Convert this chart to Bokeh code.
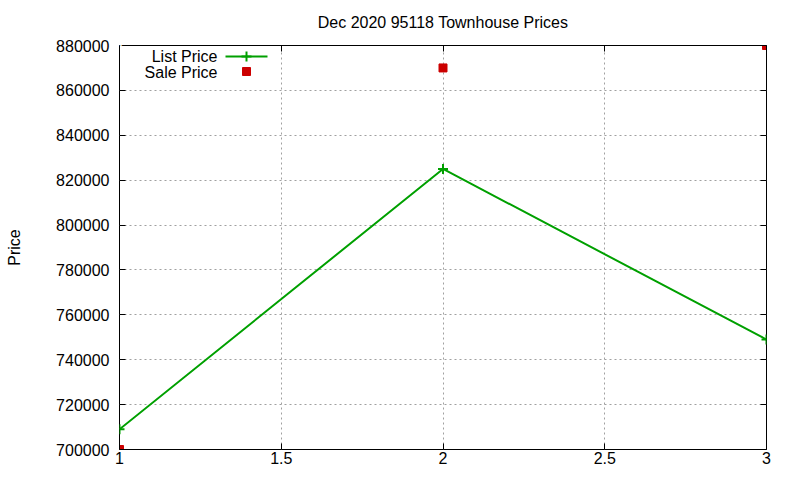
from bokeh.plotting import figure
from bokeh.models import (Range1d, FixedTicker, BasicTickFormatter, LinearAxis, Title)
from bokeh.core.properties import value
from bokeh.embed import file_html
from bokeh.resources import INLINE

title = "Dec 2020 95118 Townhouse Prices"
x_vals = [1, 2, 3]
list_price = [709000, 825000, 749000]
sale_price = [700000, 870000, 880000]
x_ticks = [1, 1.5, 2, 2.5, 3]
x_tick_labels = ["1", "1.5", "2", "2.5", "3"]
y_ticks = list(range(700000, 880001, 20000))
legend_labels = ["List Price", "Sale Price"]

FONT = "Liberation Sans"
FS = "16px"
W, H = 800, 480
ML, MR, MT, MB = 119, 34, 45, 31
X0, X1, Y0, Y1 = 1, 3, 700000, 880000

p = figure(width=W, height=H, output_backend="svg", toolbar_location=None,
           x_range=Range1d(X0, X1), y_range=Range1d(Y0, Y1),
           min_border_left=ML, min_border_right=MR, min_border_top=MT, min_border_bottom=MB,
           x_axis_location=None, y_axis_location=None, title=None)
p.outline_line_color = "black"
p.outline_line_width = 1
p.background_fill_color = "white"
p.border_fill_color = "white"

def mk_axis(labels=True, xaxis=True):
    ax = LinearAxis()
    ax.ticker = FixedTicker(ticks=x_ticks if xaxis else y_ticks)
    if xaxis:
        ax.major_label_overrides = {t: l for t, l in zip(x_ticks, x_tick_labels)}
    else:
        ax.formatter = BasicTickFormatter(use_scientific=False)
    ax.axis_line_color = None
    ax.major_tick_in = 6
    ax.major_tick_out = 0
    ax.minor_tick_line_color = None
    ax.major_tick_line_color = "black"
    ax.major_label_text_font = FONT
    ax.major_label_text_font_size = FS
    ax.major_label_text_color = "black"
    if not labels:
        ax.major_label_text_color = None
        ax.major_label_text_font_size = "0px"
        ax.major_label_standoff = 0
    return ax

bx = mk_axis(True, True)
bx.major_label_standoff = 2
p.add_layout(bx, "below")
ly = mk_axis(True, False)
ly.major_label_standoff = 10
ly.axis_label = "Price"
ly.axis_label_text_font = FONT
ly.axis_label_text_font_size = FS
ly.axis_label_text_font_style = "normal"
ly.axis_label_text_color = "black"
ly.axis_label_standoff = 30
p.add_layout(ly, "left")
p.add_layout(mk_axis(False, True), "above")
p.add_layout(mk_axis(False, False), "right")

p.xgrid.ticker = FixedTicker(ticks=x_ticks)
p.ygrid.ticker = FixedTicker(ticks=y_ticks)
for g in (p.xgrid, p.ygrid):
    g.grid_line_color = "#a0a0a0"
    g.grid_line_dash = "2 3"
    g.grid_line_width = 1

# white (invisible on white) spacer between frame and title, then the title
p.add_layout(Title(text=".", text_color="white", text_font_size="10px", standoff=0), "above")
p.add_layout(Title(text=title, align="center", text_font=FONT, text_font_size=FS,
                   text_font_style="normal", text_color="black", offset=0), "above")

GREEN = "#00a000"
RED = "#cc0000"
p.line(x_vals, list_price, line_color=GREEN, line_width=2)
p.scatter(x_vals, list_price, marker="cross", size=10, line_color=GREEN, line_width=2)
p.scatter(x_vals, sale_price, marker="square", size=8, fill_color=RED, line_color=RED)

# legend (gnuplot style: label then sample), positioned from screen pixels
fw = W - ML - MR
fh = H - MT - MB
def sx(px):
    return X0 + (px - ML) / fw * (X1 - X0)
def sy(py):
    return Y1 - (py - MT) / fh * (Y1 - Y0)

p.text([sx(217), sx(217)], [sy(56), sy(72)], text=legend_labels,
       text_align="right", text_baseline="middle", text_font=value(FONT),
       text_font_size=FS, text_color="black")
p.line([sx(225), sx(267)], [sy(56), sy(56)], line_color=GREEN, line_width=2)
p.scatter([sx(246)], [sy(56)], marker="cross", size=10, line_color=GREEN, line_width=2)
p.scatter([sx(246)], [sy(71)], marker="square", size=8, fill_color=RED, line_color=RED)

open("out.html", "w").write(file_html(p, INLINE))
